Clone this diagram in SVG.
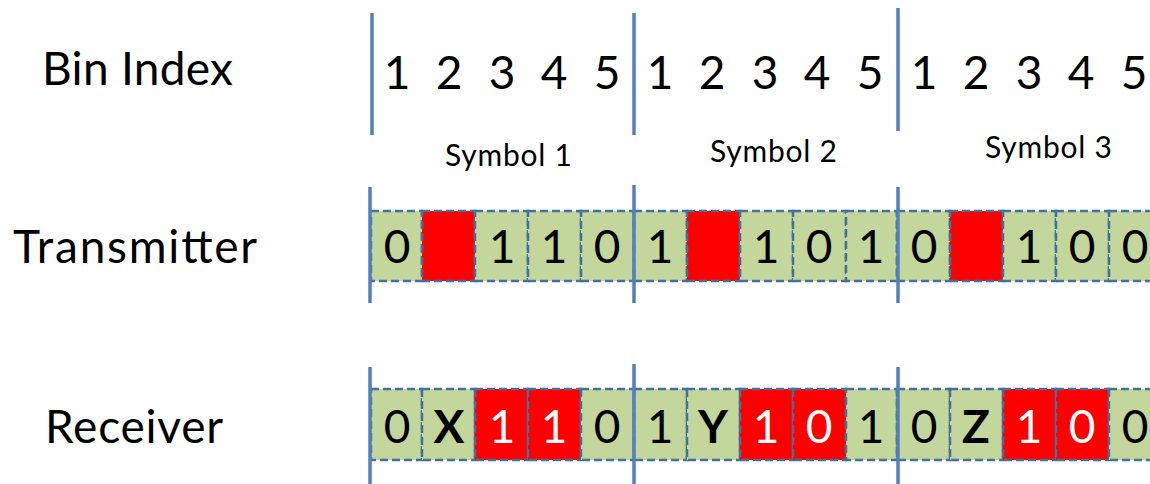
<svg xmlns="http://www.w3.org/2000/svg" width="1150" height="484" viewBox="0 0 1150 484">
<style>
.lbl{font-family:Lato,"Open Sans","Liberation Sans",sans-serif;font-size:46px;fill:#000}
.dg{font-family:Lato,"Open Sans","Liberation Sans",sans-serif;font-size:46px;fill:#000;text-anchor:middle}
.sym{font-family:Lato,"Open Sans","Liberation Sans",sans-serif;font-size:30px;fill:#000}
.g{fill:#C3D69B;stroke:#41719C;stroke-width:2.5;stroke-dasharray:8 4}
.r{fill:#FF0000;stroke:#41719C;stroke-width:2.5;stroke-dasharray:8 4}
.w{fill:#fff}
.b{font-weight:bold}
.sep{stroke:#4F81BD;stroke-width:3.5}
</style>
<rect width="1150" height="484" fill="#fff"/>
<g id="labels">
<text class="lbl" x="42" y="85" textLength="191" lengthAdjust="spacing">Bin Index</text>
<text class="lbl" x="13" y="263" textLength="244" lengthAdjust="spacing">Transmitter</text>
<text class="lbl" x="45" y="443" textLength="178" lengthAdjust="spacing">Receiver</text>
</g>
<g id="bin-index">
<text class="dg" y="89"><tspan x="397">1</tspan><tspan x="449">2</tspan><tspan x="502">3</tspan><tspan x="554">4</tspan><tspan x="607">5</tspan></text>
<text class="dg" y="89"><tspan x="660">1</tspan><tspan x="712">2</tspan><tspan x="765">3</tspan><tspan x="817">4</tspan><tspan x="870">5</tspan></text>
<text class="dg" y="89"><tspan x="924">1</tspan><tspan x="976">2</tspan><tspan x="1029">3</tspan><tspan x="1081">4</tspan><tspan x="1134">5</tspan></text>
<text class="sym" x="445" y="166" textLength="127" lengthAdjust="spacing">Symbol 1</text>
<text class="sym" x="710" y="162" textLength="127" lengthAdjust="spacing">Symbol 2</text>
<text class="sym" x="985" y="158" textLength="127" lengthAdjust="spacing">Symbol 3</text>
</g>
<g id="transmitter">
<rect class="g" x="371" y="211" width="51" height="70"/>
<rect class="r" x="422" y="211" width="53" height="70"/>
<rect class="g" x="475" y="211" width="53" height="70"/>
<rect class="g" x="528" y="211" width="53" height="70"/>
<rect class="g" x="581" y="211" width="53" height="70"/>
<rect class="g" x="634" y="211" width="53" height="70"/>
<rect class="r" x="687" y="211" width="53" height="70"/>
<rect class="g" x="740" y="211" width="53" height="70"/>
<rect class="g" x="793" y="211" width="53" height="70"/>
<rect class="g" x="846" y="211" width="51" height="70"/>
<rect class="g" x="897" y="211" width="53" height="70"/>
<rect class="r" x="950" y="211" width="53" height="70"/>
<rect class="g" x="1003" y="211" width="53" height="70"/>
<rect class="g" x="1056" y="211" width="53" height="70"/>
<rect class="g" x="1109" y="211" width="53" height="70"/>
<text class="dg" y="263"><tspan x="397">0</tspan><tspan x="502">1</tspan><tspan x="554">1</tspan><tspan x="607">0</tspan><tspan x="660">1</tspan><tspan x="766">1</tspan><tspan x="819">0</tspan><tspan x="871">1</tspan><tspan x="924">0</tspan><tspan x="1029">1</tspan><tspan x="1082">0</tspan><tspan x="1135">0</tspan></text>
</g>
<g id="receiver">
<rect class="g" x="371" y="389" width="51" height="71"/>
<rect class="g" x="422" y="389" width="53" height="71"/>
<rect class="r" x="475" y="389" width="53" height="71"/>
<rect class="r" x="528" y="389" width="53" height="71"/>
<rect class="g" x="581" y="389" width="53" height="71"/>
<rect class="g" x="634" y="389" width="53" height="71"/>
<rect class="g" x="687" y="389" width="53" height="71"/>
<rect class="r" x="740" y="389" width="53" height="71"/>
<rect class="r" x="793" y="389" width="53" height="71"/>
<rect class="g" x="846" y="389" width="51" height="71"/>
<rect class="g" x="897" y="389" width="53" height="71"/>
<rect class="g" x="950" y="389" width="53" height="71"/>
<rect class="r" x="1003" y="389" width="53" height="71"/>
<rect class="r" x="1056" y="389" width="53" height="71"/>
<rect class="g" x="1109" y="389" width="53" height="71"/>
<text class="dg" y="443"><tspan x="397">0</tspan><tspan x="449" class="b">X</tspan><tspan x="502" class="w">1</tspan><tspan x="554" class="w">1</tspan><tspan x="607">0</tspan><tspan x="660">1</tspan><tspan x="713" class="b">Y</tspan><tspan x="766" class="w">1</tspan><tspan x="819" class="w">0</tspan><tspan x="871">1</tspan><tspan x="924">0</tspan><tspan x="976" class="b">Z</tspan><tspan x="1029" class="w">1</tspan><tspan x="1082" class="w">0</tspan><tspan x="1135">0</tspan></text>
</g>
<g id="separators">
<line class="sep" x1="372" y1="13" x2="372" y2="135"/>
<line class="sep" x1="634" y1="13" x2="634" y2="135"/>
<line class="sep" x1="898" y1="8" x2="898" y2="131"/>
<line class="sep" x1="370" y1="187" x2="370" y2="303"/>
<line class="sep" x1="634" y1="185" x2="634" y2="303"/>
<line class="sep" x1="898" y1="187" x2="898" y2="303"/>
<line class="sep" x1="370" y1="367" x2="370" y2="484"/>
<line class="sep" x1="634" y1="364" x2="634" y2="484"/>
<line class="sep" x1="898" y1="367" x2="898" y2="484"/>
</g>
</svg>
